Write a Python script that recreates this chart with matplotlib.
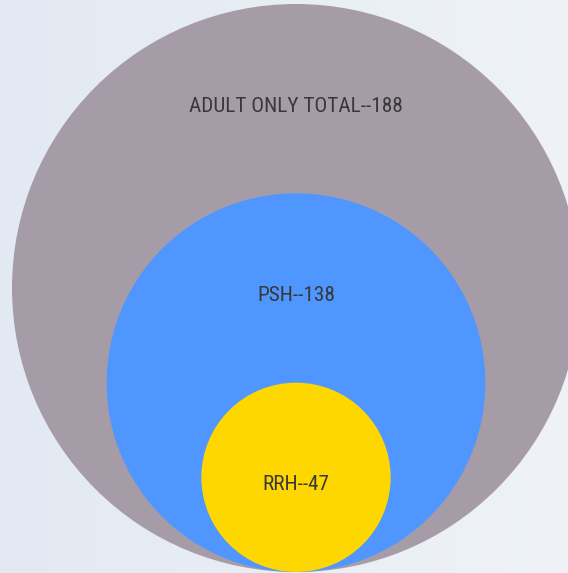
import numpy as np
import matplotlib.pyplot as plt
from matplotlib.patches import Circle
from matplotlib.colors import LinearSegmentedColormap

labels = ['ADULT ONLY TOTAL', 'PSH', 'RRH']
values = [188, 138, 47]
colors = ['#a69ca7', '#4f96fe', '#ffd700']

W, H = 568, 573
fig = plt.figure(figsize=(W / 100, H / 100), dpi=100)
ax = fig.add_axes([0, 0, 1, 1])
ax.set_xlim(0, W)
ax.set_ylim(H, 0)
ax.axis('off')

# background gradient
cmap = LinearSegmentedColormap.from_list('bg', ['#e3e9f2', '#eff3f8'])
grad = np.linspace(0, 1, 256).reshape(1, -1)
ax.imshow(grad, cmap=cmap, extent=[0, W, H, 0], aspect='auto', zorder=0)

# nested circles, all touching at the bottom, radius steps by rank
cx, bottom, rmax = 296, 572, 284
order = np.argsort(values)[::-1]
n = len(values)
for k, i in enumerate(order):
    r = rmax * (n - k) / n
    cy = bottom - r
    ax.add_patch(Circle((cx, cy), r, facecolor=colors[i], edgecolor='none', zorder=1 + k))
    ty = cy - r + 102
    ax.text(cx, ty, f'{labels[i]}--{values[i]}', ha='center', va='center',
            fontsize=15.3, family=['Roboto Condensed', 'Liberation Sans Narrow', 'Roboto'],
            color='#383838', zorder=10)

fig.savefig('out.png', dpi=100)
